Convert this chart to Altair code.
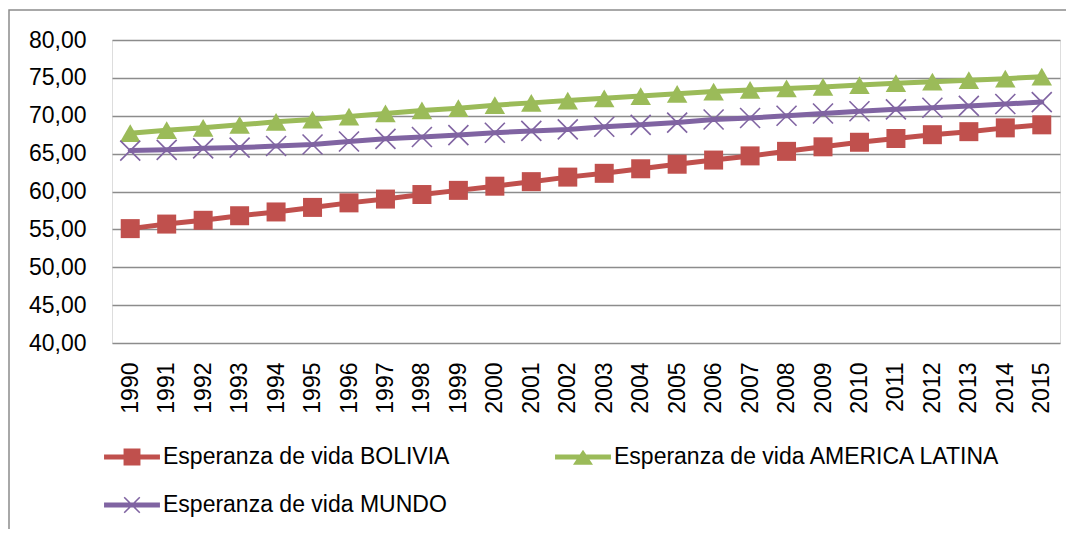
import altair as alt
import pandas as pd

years = [str(y) for y in range(1990, 2016)]
bolivia = [55.1, 55.7, 56.2, 56.8, 57.3, 57.9, 58.5, 59.0, 59.6, 60.15, 60.7, 61.3, 61.9,
           62.4, 63.0, 63.6, 64.15, 64.7, 65.3, 65.9, 66.5, 67.0, 67.5, 67.9, 68.4, 68.8]
latam = [67.7, 68.1, 68.4, 68.8, 69.2, 69.5, 69.9, 70.3, 70.7, 71.0, 71.4, 71.7, 72.0,
         72.3, 72.6, 72.9, 73.2, 73.4, 73.6, 73.8, 74.05, 74.3, 74.5, 74.7, 74.9, 75.15]
mundo = [65.4, 65.5, 65.7, 65.8, 66.0, 66.2, 66.6, 66.95, 67.2, 67.45, 67.75, 68.0, 68.2,
         68.55, 68.8, 69.1, 69.5, 69.7, 70.0, 70.3, 70.6, 70.85, 71.05, 71.3, 71.55, 71.8]

names = ["Esperanza de vida BOLIVIA", "Esperanza de vida AMERICA LATINA", "Esperanza de vida MUNDO"]
colors = ["#C0504D", "#9BBB59", "#8064A2"]
y_ticks = [40, 45, 50, 55, 60, 65, 70, 75, 80]

rows = []
for name, vals in zip(names, [bolivia, latam, mundo]):
    for yr, v in zip(years, vals):
        rows.append({"year": yr, "serie": name, "valor": v})
df = pd.DataFrame(rows)

FONT = "Liberation Sans"

# legend symbols: line + marker
line_part = "M-2.15,-0.19L2.15,-0.19L2.15,0.19L-2.15,0.19Z"
leg_square = line_part + "M-0.65,-0.65L0.65,-0.65L0.65,0.65L-0.65,0.65Z"
leg_tri = line_part + "M0,-0.55L0.77,0.6L-0.77,0.6Z"
leg_x = (line_part
         + "M-0.558,-0.642L0.642,0.558L0.558,0.642L-0.642,-0.558Z"
         + "M-0.558,0.642L-0.642,0.558L0.558,-0.642L0.642,-0.558Z")
leg_shapes = [leg_square, leg_tri, leg_x]

x_enc = alt.X("year:O", scale=alt.Scale(type="point", padding=0.5),
              axis=alt.Axis(title=None, labelAngle=-90, domain=False, ticks=False, tickSize=0,
                            grid=False, labelPadding=19, labelFont=FONT, labelFontSize=23,
                            labelColor="#000000"))
y_enc = alt.Y("valor:Q", scale=alt.Scale(domain=[40, 80], nice=False, zero=False),
              axis=alt.Axis(title=None, values=y_ticks, domain=False, ticks=False, tickSize=0,
                            labelExpr="replace(format(datum.value, '.2f'), '.', ',')",
                            labelPadding=26, labelFont=FONT, labelFontSize=23,
                            labelColor="#000000", gridColor="#8c8c8c", gridWidth=1.5))

base = alt.Chart(df).encode(x=x_enc, y=y_enc)

frame = alt.Chart(alt.Data(values=[{"k": 1}])).mark_rect(
    fill="transparent", stroke="#8c8c8c", strokeWidth=1.5
).encode(x=alt.value(-103), x2=alt.value(1000), y=alt.value(-30), y2=alt.value(600))

layers = [frame]
point_specs = [
    dict(shape="square", filled=True, size=361),
    dict(shape="triangle-up", filled=True, size=420),
    dict(shape="M-1,-1L1,1M-1,1L1,-1", filled=False, size=400, strokeWidth=1.6),
]
for name, col, ps in zip(names, colors, point_specs):
    sub = base.transform_filter(alt.datum.serie == name)
    layers.append(sub.mark_line(color=col, strokeWidth=5, strokeCap="round", strokeJoin="round"))
    layers.append(sub.mark_point(color=col, opacity=1, **ps))

legend = alt.Legend(title=None, orient="none", direction="horizontal", legendX=-8, legendY=404,
                    columns=2, columnPadding=105, rowPadding=23, symbolSize=676, symbolOffset=15,
                    labelOffset=18, symbolStrokeWidth=0, symbolOpacity=1, padding=0,
                    labelFont=FONT, labelFontSize=23, labelColor="#000000", labelLimit=500)
leg_layer = base.mark_point(filled=True, opacity=0).encode(
    color=alt.Color("serie:N", scale=alt.Scale(domain=names, range=colors), legend=legend),
    shape=alt.Shape("serie:N", scale=alt.Scale(domain=names, range=leg_shapes), legend=legend),
)
layers.append(leg_layer)

chart = alt.layer(*layers).properties(
    width=948, height=303,
    autosize=alt.AutoSizeParams(type="none"),
    padding={"left": 104, "top": 32, "right": 6, "bottom": 186},
).configure_view(stroke=None).configure(background="white")

chart.save("out.html", embed_options={"renderer": "svg", "actions": False})
